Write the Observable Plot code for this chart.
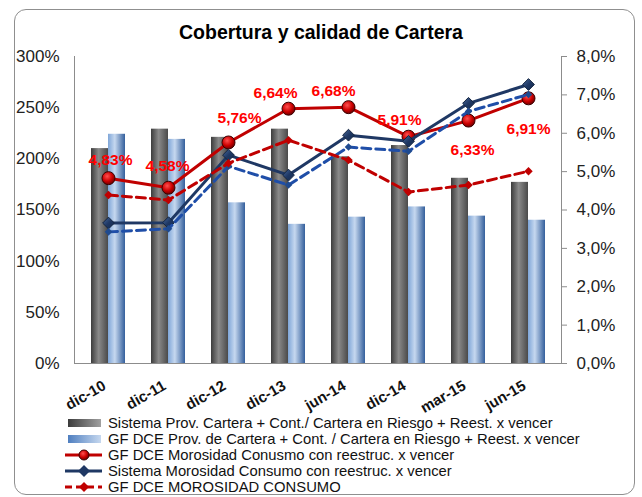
<!DOCTYPE html>
<html>
<head>
<meta charset="utf-8">
<script src="https://cdn.jsdelivr.net/npm/d3@7"></script>
<script src="https://cdn.jsdelivr.net/npm/@observablehq/plot@0.6"></script>
<style>
  body { margin:0; width:642px; height:497px; position:relative; background:#fff; font-family:"Liberation Sans", Arial, sans-serif; overflow:hidden; }
  #box { position:absolute; left:14px; top:9px; width:621px; height:486px; border:1px solid #8f8f8f; border-radius:12px; box-sizing:border-box; }
  #title { position:absolute; left:0; top:21px; width:642px; text-align:center; font-weight:bold; font-size:19.5px; color:#000; }
  #chart { position:absolute; left:0; top:0; }
  #legend { position:absolute; left:0; top:410px; }
</style>
</head>
<body>
<div id="box"></div>
<div id="title">Cobertura y calidad de Cartera</div>
<div id="chart"></div>
<div id="legend"></div>
<script>
// ---- data ----
const categories = ["dic-10","dic-11","dic-12","dic-13","jun-14","dic-14","mar-15","jun-15"];
const sistemaCobertura = [210, 229, 221, 229, 202, 213, 181, 177];
const gfCobertura      = [224, 219, 157, 136, 143, 153, 144, 140];
const gfMorosidadReest      = [4.83, 4.58, 5.76, 6.64, 6.68, 5.91, 6.33, 6.91];
const sistemaMorosidadReest = [3.66, 3.67, 5.43, 4.91, 5.95, 5.79, 6.78, 7.27];
const sistemaMorosidad      = [3.43, 3.51, 5.14, 4.65, 5.64, 5.53, 6.57, 7.01];
const gfMorosidad           = [4.39, 4.26, 5.22, 5.82, 5.30, 4.47, 4.65, 5.01];
const leftTicks  = [0, 50, 100, 150, 200, 250, 300];
const rightTicks = [0, 1, 2, 3, 4, 5, 6, 7, 8];
const legendLabels = [
  "Sistema Prov. Cartera + Cont./ Cartera en Riesgo + Reest. x vencer",
  "GF DCE Prov. de Cartera + Cont. / Cartera en Riesgo + Reest. x vencer",
  "GF DCE Morosidad Conusmo con reestruc. x vencer",
  "Sistema Morosidad Consumo con reestruc. x vencer",
  "GF DCE MOROSIDAD CONSUMO"
];

// ---- style config ----
const K = 300 / 8; // right-axis (0–8%) mapped onto left-axis domain (0–300%)
const labelOffsets = [[2,-18],[-1,-22],[11,-24],[-13,-16],[-15,-16],[-9,-17],[4,29],[0,31]];
const RED = "#c00000", NAVY = "#1f3864", BLUE = "#1f4ea8";

const rows = categories.map((c, i) => ({
  cat: c,
  sis: sistemaCobertura[i],
  gf: gfCobertura[i],
  redR: gfMorosidadReest[i] * K,
  navy: sistemaMorosidadReest[i] * K,
  blue: sistemaMorosidad[i] * K,
  redD: gfMorosidad[i] * K,
  label: gfMorosidadReest[i].toFixed(2).replace(".", ",") + "%"
}));

const fmtR = d => (d / K).toFixed(1).replace(".", ",") + "%";

const plot = Plot.plot({
  width: 642,
  height: 410,
  marginLeft: 74,
  marginRight: 81,
  marginTop: 56,
  marginBottom: 47,
  style: { fontFamily: "Liberation Sans, Arial, sans-serif", fontSize: "17px", color: "#222", background: "transparent", overflow: "visible" },
  x: { type: "band", domain: categories, paddingInner: 0.44, paddingOuter: 0.23, axis: null, label: null },
  y: { domain: [0, 300], axis: null, label: null },
  marks: [
    Plot.barY(rows, { x: "cat", y: "sis", fill: "url(#gGray)", insetRight: 17 }),
    Plot.barY(rows, { x: "cat", y: "gf", fill: "url(#gBlue)", insetLeft: 17 }),
    Plot.frame({ anchor: "left", stroke: "#8c8c8c" }),
    Plot.frame({ anchor: "right", stroke: "#8c8c8c" }),
    Plot.ruleY([0], { stroke: "#8c8c8c" }),
    Plot.axisY(leftTicks, { anchor: "left", tickSize: 0, tickPadding: 15, tickFormat: d => d + "%", fontSize: 17, fill: "#222", label: null }),
    Plot.axisY(rightTicks.map(v => v * K), { anchor: "right", tickSize: 5, tickPadding: 10, tickFormat: fmtR, fontSize: 17, fill: "#222", stroke: "#8c8c8c", label: null }),
    Plot.axisX({ tickRotate: -30, tickSize: 0, tickPadding: 21, dx: -4, fontSize: 15, fontWeight: "bold", fill: "#111", label: null }),
    // lines
    Plot.line(rows, { x: "cat", y: "redR", stroke: RED, strokeWidth: 3 }),
    Plot.dot(rows, { x: "cat", y: "redR", r: 6.5, fill: "url(#gRed)", stroke: "#3a0000", strokeWidth: 1 }),
    Plot.line(rows, { x: "cat", y: "navy", stroke: NAVY, strokeWidth: 3 }),
    Plot.dot(rows, { x: "cat", y: "navy", symbol: "diamond2", r: 5.3, fill: "url(#gNavy)", stroke: "#142540", strokeWidth: 1 }),
    Plot.line(rows, { x: "cat", y: "blue", stroke: BLUE, strokeWidth: 3, strokeDasharray: "9,5" }),
    Plot.dot(rows, { x: "cat", y: "blue", symbol: "diamond2", r: 3.4, fill: "#1f4a8f", stroke: "none" }),
    Plot.line(rows, { x: "cat", y: "redD", stroke: RED, strokeWidth: 3, strokeDasharray: "9,5" }),
    Plot.dot(rows, { x: "cat", y: "redD", symbol: "diamond2", r: 3.8, fill: RED, stroke: "none" }),
    ...rows.map((r, i) => Plot.text([r], { x: "cat", y: "redR", text: "label", dx: labelOffsets[i][0], dy: labelOffsets[i][1], fill: "#ff0000", fontWeight: "bold", fontSize: 15.5 }))
  ]
});

d3.select(plot).insert("defs", ":first-child").html(`
  <linearGradient id="gGray" x1="0" x2="1" y1="0" y2="0">
    <stop offset="0" stop-color="#3c3c3c"/><stop offset="0.45" stop-color="#8a8a8a"/><stop offset="1" stop-color="#4a4a4a"/>
  </linearGradient>
  <linearGradient id="gBlue" x1="0" x2="1" y1="0" y2="0">
    <stop offset="0" stop-color="#7fa6d8"/><stop offset="0.4" stop-color="#c6d8ef"/><stop offset="1" stop-color="#345f9c"/>
  </linearGradient>
  <radialGradient id="gRed" cx="0.4" cy="0.35" r="0.65">
    <stop offset="0" stop-color="#ff5050"/><stop offset="0.6" stop-color="#cc0000"/><stop offset="1" stop-color="#700000"/>
  </radialGradient>
  <linearGradient id="gNavy" x1="0" x2="1" y1="0" y2="1">
    <stop offset="0" stop-color="#4a6a9c"/><stop offset="0.5" stop-color="#1f3864"/><stop offset="1" stop-color="#142a4d"/>
  </linearGradient>
`);
document.getElementById("chart").appendChild(plot);

// ---- legend ----
const lg = d3.select("#legend").append("svg").attr("width", 642).attr("height", 87)
  .style("font-family", "Liberation Sans, Arial, sans-serif");
lg.append("defs").html(`
  <linearGradient id="lgGray" x1="0" x2="1"><stop offset="0" stop-color="#3c3c3c"/><stop offset="1" stop-color="#a0a0a0"/></linearGradient>
  <linearGradient id="lgBlue" x1="0" x2="1"><stop offset="0" stop-color="#4f7fc0"/><stop offset="1" stop-color="#c6d8ef"/></linearGradient>
  <radialGradient id="lgRed" cx="0.4" cy="0.35" r="0.65"><stop offset="0" stop-color="#ff5050"/><stop offset="0.6" stop-color="#cc0000"/><stop offset="1" stop-color="#700000"/></radialGradient>`);
const rowY = i => 13 + i * 16;
legendLabels.forEach((t, i) => {
  const y = rowY(i);
  const g = lg.append("g");
  if (i === 0) g.append("rect").attr("x", 68).attr("y", y - 4).attr("width", 33).attr("height", 8).attr("fill", "url(#lgGray)");
  if (i === 1) g.append("rect").attr("x", 68).attr("y", y - 4).attr("width", 33).attr("height", 8).attr("fill", "url(#lgBlue)");
  if (i === 2) {
    g.append("line").attr("x1", 65).attr("x2", 102).attr("y1", y).attr("y2", y).attr("stroke", RED).attr("stroke-width", 3);
    g.append("circle").attr("cx", 84).attr("cy", y).attr("r", 5).attr("fill", "url(#lgRed)").attr("stroke", "#3a0000");
  }
  if (i === 3) {
    g.append("line").attr("x1", 65).attr("x2", 102).attr("y1", y).attr("y2", y).attr("stroke", NAVY).attr("stroke-width", 3);
    g.append("path").attr("d", `M84,${y-6}L90,${y}L84,${y+6}L78,${y}Z`).attr("fill", NAVY);
  }
  if (i === 4) {
    g.append("line").attr("x1", 65).attr("x2", 102).attr("y1", y).attr("y2", y).attr("stroke", RED).attr("stroke-width", 3).attr("stroke-dasharray", "7,4");
    g.append("path").attr("d", `M84,${y-5}L89,${y}L84,${y+5}L79,${y}Z`).attr("fill", RED);
  }
  g.append("text").attr("x", 108).attr("y", y).attr("dy", "0.36em").attr("font-size", 14.8).attr("fill", "#111").text(t);
});
</script>
</body>
</html>
